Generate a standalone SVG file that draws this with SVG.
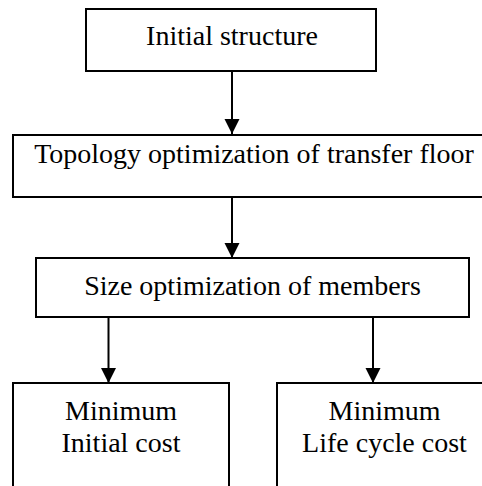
<svg xmlns="http://www.w3.org/2000/svg" width="482" height="486" viewBox="0 0 482 486">
<style>
.box{fill:#fff;stroke:#000;stroke-width:2}
text{font-family:"Liberation Serif","Times New Roman",serif;font-size:28px;fill:#000;text-anchor:middle}
.c{stroke:#000;stroke-width:2;fill:none;marker-end:url(#ah)}
</style>
<defs>
<marker id="ah" markerUnits="userSpaceOnUse" markerWidth="16" markerHeight="16" viewBox="0 0 16 16" refX="15" refY="8" orient="auto">
<path d="M0,0.5 L15,8 L0,15.5 Z" fill="#000"/>
</marker>
</defs>
<rect width="482" height="486" fill="#fff"/>
<g id="connectors">
<line class="c" x1="232" y1="71" x2="232" y2="134"/>
<line class="c" x1="232" y1="197" x2="232" y2="258"/>
<line class="c" x1="108.5" y1="317" x2="108.5" y2="383"/>
<line class="c" x1="373" y1="317" x2="373" y2="383"/>
</g>
<g id="n1">
<rect class="box" x="86" y="9" width="290" height="62"/>
<text x="232" y="45">Initial structure</text>
</g>
<g id="n2">
<rect class="box" x="13" y="135" width="484" height="62"/>
<text x="254" y="163">Topology optimization of transfer floor</text>
</g>
<g id="n3">
<rect class="box" x="36" y="258" width="433" height="59"/>
<text x="252.5" y="295">Size optimization of members</text>
</g>
<g id="n4">
<rect class="box" x="13" y="383" width="216" height="120"/>
<text x="121" y="420">Minimum</text>
<text x="121" y="452">Initial cost</text>
</g>
<g id="n5">
<rect class="box" x="277" y="383" width="216" height="120"/>
<text x="384.5" y="420">Minimum</text>
<text x="384.5" y="452">Life cycle cost</text>
</g>
</svg>
